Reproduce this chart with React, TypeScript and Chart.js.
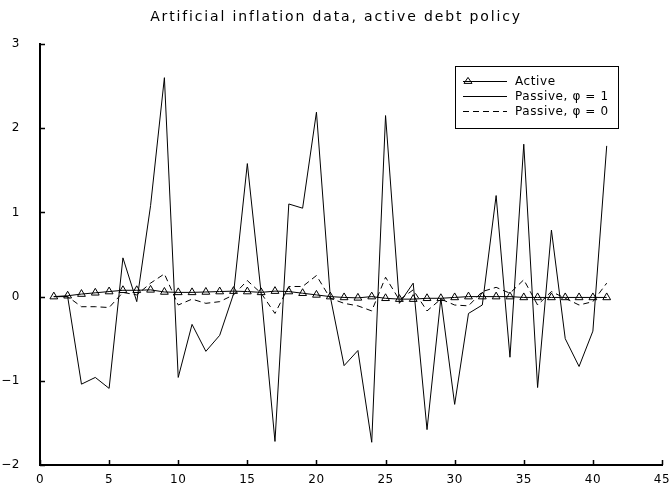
import { useEffect, useRef } from "react";
import { Chart, registerables } from "chart.js";

Chart.register(...registerables);

const periods = [1, 2, 3, 4, 5, 6, 7, 8, 9, 10, 11, 12, 13, 14, 15, 16, 17, 18, 19, 20, 21, 22, 23, 24, 25, 26, 27, 28, 29, 30, 31, 32, 33, 34, 35, 36, 37, 38, 39, 40, 41];

const active = [0, 0.01, 0.03, 0.045, 0.06, 0.075, 0.075, 0.08, 0.055, 0.05, 0.05, 0.055, 0.06, 0.065, 0.06, 0.05, 0.065, 0.06, 0.04, 0.02, 0.0, -0.01, -0.015, 0.0, -0.02, -0.03, -0.03, -0.02, -0.02, -0.01, 0.0, 0.0, 0.0, 0.0, -0.01, -0.01, -0.01, -0.01, -0.01, -0.01, -0.01];

const passive1 = [0, 0.0, -1.04, -0.96, -1.09, 0.46, -0.06, 1.08, 2.6, -0.96, -0.33, -0.65, -0.46, 0.03, 1.58, 0.04, -1.72, 1.1, 1.05, 2.19, 0.0, -0.82, -0.64, -1.73, 2.15, -0.08, 0.16, -1.58, -0.02, -1.28, -0.2, -0.1, 1.2, -0.72, 1.81, -1.08, 0.79, -0.5, -0.83, -0.41, 1.79];

const passive0 = [0, 0.0, -0.12, -0.12, -0.13, 0.05, 0.02, 0.16, 0.27, -0.1, -0.03, -0.08, -0.06, 0.02, 0.19, 0.04, -0.2, 0.12, 0.12, 0.25, -0.02, -0.08, -0.11, -0.17, 0.23, -0.04, 0.08, -0.17, -0.03, -0.1, -0.11, 0.06, 0.11, 0.04, 0.2, -0.1, 0.06, -0.02, -0.1, -0.06, 0.16];

const xTicks = [0, 5, 10, 15, 20, 25, 30, 35, 40, 45];
const yTicks = [-2, -1, 0, 1, 2, 3];
const xTickLabels = ["0", "5", "10", "15", "20", "25", "30", "35", "40", "45"];
const yTickLabels = ["\u22122", "\u22121", "0", "1", "2", "3"];

const titleText = "Artificial inflation data, active debt policy";
const legendLabels = ["Active", "Passive, \u03C6 = 1", "Passive, \u03C6 = 0"];

const FONT = "'DejaVu Sans', sans-serif";

function toPoints(ys: number[]) {
  return periods.map((p, i) => ({ x: p, y: ys[i] }));
}

function drawTriangle(ctx: CanvasRenderingContext2D, cx: number, cy: number, r: number) {
  const h = r * 1.5;
  ctx.beginPath();
  ctx.moveTo(cx, cy - h * 0.6);
  ctx.lineTo(cx - r, cy + h * 0.4);
  ctx.lineTo(cx + r, cy + h * 0.4);
  ctx.closePath();
  ctx.stroke();
}

const decorPlugin = {
  id: "decor",
  afterDraw(chart: any) {
    const ctx: CanvasRenderingContext2D = chart.ctx;
    const xs = chart.scales.x;
    const ys = chart.scales.y;
    const area = chart.chartArea;
    ctx.save();
    // title
    ctx.fillStyle = "#000";
    ctx.font = `14px ${FONT}`;
    (ctx as any).letterSpacing = "1.85px";
    ctx.textAlign = "center";
    ctx.textBaseline = "middle";
    ctx.fillText(titleText, 336, 17);
    (ctx as any).letterSpacing = "0px";

    // tick labels
    ctx.font = `12px ${FONT}`;
    (ctx as any).letterSpacing = "0.5px";
    ctx.textAlign = "center";
    ctx.textBaseline = "middle";
    xTicks.forEach((v, i) => {
      ctx.fillText(xTickLabels[i], xs.getPixelForValue(v), area.bottom + 15);
    });
    ctx.textAlign = "right";
    yTicks.forEach((v, i) => {
      ctx.fillText(yTickLabels[i], area.left - 20, ys.getPixelForValue(v));
    });
    (ctx as any).letterSpacing = "0px";

    // inward ticks
    ctx.strokeStyle = "#000";
    ctx.lineWidth = 1.5;
    ctx.beginPath();
    for (const v of xTicks) {
      const px = Math.round(xs.getPixelForValue(v)) + 0.5;
      ctx.moveTo(px, area.bottom);
      ctx.lineTo(px, area.bottom - 5);
    }
    for (const v of yTicks) {
      const py = Math.round(ys.getPixelForValue(v)) + 0.5;
      ctx.moveTo(area.left, py);
      ctx.lineTo(area.left + 5, py);
    }
    ctx.stroke();

    // legend
    ctx.lineWidth = 1;
    ctx.strokeStyle = "#000";
    ctx.strokeRect(455.5, 66.5, 163, 62);
    const rows = [81, 96, 111];
    ctx.font = `12px ${FONT}`;
    (ctx as any).letterSpacing = "0.6px";
    ctx.textAlign = "left";
    ctx.textBaseline = "middle";
    rows.forEach((ry, i) => {
      ctx.beginPath();
      if (i === 2) ctx.setLineDash([6, 4]);
      else ctx.setLineDash([]);
      ctx.moveTo(463, ry + 0.5);
      ctx.lineTo(507, ry + 0.5);
      ctx.stroke();
      ctx.setLineDash([]);
      if (i === 0) drawTriangle(ctx, 468, ry, 4);
      ctx.fillText(legendLabels[i], 515, ry + 1);
    });
    ctx.restore();
  },
};

export default function App() {
  const ref = useRef<HTMLCanvasElement | null>(null);
  useEffect(() => {
    if (!ref.current) return;
    const chart = new Chart(ref.current, {
      type: "line",
      data: {
        datasets: [
          {
            label: legendLabels[1],
            data: toPoints(passive1),
            borderColor: "#000",
            borderWidth: 1,
            pointRadius: 0,
            fill: false,
            tension: 0,
          },
          {
            label: legendLabels[2],
            data: toPoints(passive0),
            borderColor: "#000",
            borderWidth: 1,
            borderDash: [6, 4],
            pointRadius: 0,
            fill: false,
            tension: 0,
          },
          {
            label: legendLabels[0],
            data: toPoints(active),
            borderColor: "#000",
            borderWidth: 1,
            pointStyle: "triangle",
            pointRadius: 4.5,
            pointBorderWidth: 1,
            pointBorderColor: "#000",
            pointBackgroundColor: "rgba(0,0,0,0)",
            fill: false,
            tension: 0,
          },
        ],
      },
      options: {
        animation: false,
        responsive: false,
        devicePixelRatio: 1,
        layout: { padding: { top: 44, right: 8, left: 40, bottom: 22 } },
        plugins: {
          legend: { display: false },
          title: { display: false },
          tooltip: { enabled: false },
        },
        scales: {
          x: {
            type: "linear",
            min: 0,
            max: 45,
            grid: { display: false, drawTicks: false },
            border: { display: true, color: "#000", width: 2 },
            ticks: { display: false, stepSize: 5 },
            afterFit: (s: any) => {
              s.height = 0;
            },
          },
          y: {
            type: "linear",
            min: -2,
            max: 3,
            grid: { display: false, drawTicks: false },
            border: { display: true, color: "#000", width: 2 },
            ticks: { display: false, stepSize: 1 },
            afterFit: (s: any) => {
              s.width = 0;
            },
          },
        },
      },
      plugins: [decorPlugin],
    });
    return () => chart.destroy();
  }, []);
  return (
    <div style={{ position: "fixed", left: 0, top: 0, width: 670, height: 487, background: "#fff" }}>
      <canvas ref={ref} width={670} height={487} style={{ width: 670, height: 487 }} />
    </div>
  );
}
